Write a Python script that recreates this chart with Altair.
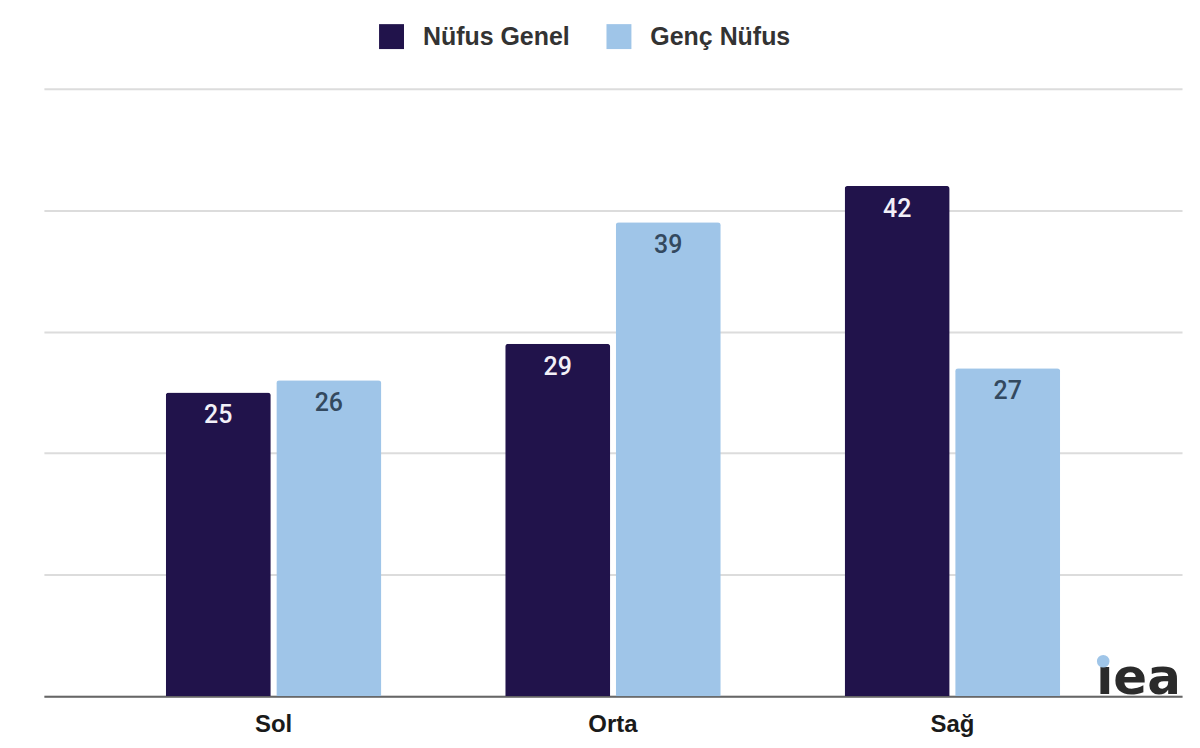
import altair as alt
import pandas as pd

categories = ["Sol", "Orta", "Sağ"]
series = ["Nüfus Genel", "Genç Nüfus"]
genel = [25, 29, 42]
genc = [26, 39, 27]
colors = ["#21134b", "#9fc5e8"]
label_colors = ["#f2f0f8", "#33495f"]

rows = []
for c, a, b in zip(categories, genel, genc):
    rows.append({"cat": c, "series": series[0], "value": a})
    rows.append({"cat": c, "series": series[1], "value": b})
df = pd.DataFrame(rows)

SANS = "Liberation Sans"
NUM = "Roboto"

base = alt.Chart(df).encode(
    x=alt.X("cat:N", sort=categories, title=None,
            scale=alt.Scale(paddingInner=0.365, paddingOuter=0.359),
            axis=alt.Axis(labelAngle=0, labelFont=SANS, labelFontSize=24,
                          labelFontWeight="bold", labelColor="#1a1a1a",
                          labelPadding=16, ticks=False, domainColor="#666666",
                          domainWidth=2, grid=False)),
    xOffset=alt.XOffset("series:N", sort=series,
                        scale=alt.Scale(paddingInner=0.05)),
    y=alt.Y("value:Q", title=None,
            scale=alt.Scale(domain=[0, 50], nice=False),
            axis=alt.Axis(values=[0, 10, 20, 30, 40, 50], labels=False,
                          ticks=False, domain=False, gridColor="#dcdcdc",
                          gridWidth=2)),
)

bars = base.mark_bar(cornerRadiusTopLeft=3, cornerRadiusTopRight=3).encode(
    color=alt.Color("series:N", sort=series,
                    scale=alt.Scale(domain=series, range=colors),
                    legend=alt.Legend(title=None, orient="none",
                                      direction="horizontal",
                                      legendX=336, legendY=-65,
                                      symbolType="square", symbolSize=625,
                                      symbolStrokeWidth=0, symbolOpacity=1,
                                      labelFont=SANS, labelFontSize=25,
                                      labelFontWeight="bold", labelColor="#333333",
                                      labelOffset=19, columnPadding=36))
)

labels = base.mark_text(baseline="top", dy=11, font=NUM, fontSize=25,
                        fontWeight=500).encode(
    text=alt.Text("value:Q"),
    color=alt.Color("series:N", sort=series,
                    scale=alt.Scale(domain=series, range=label_colors),
                    legend=None),
)

logo_df = pd.DataFrame({"t": ["ıea"]})
logo_text = alt.Chart(logo_df).mark_text(
    font="DejaVu Sans", fontSize=50, fontWeight="bold", color="#2b2b2b",
    align="left", baseline="alphabetic").encode(
    text="t:N", x=alt.value(1055), y=alt.value(607))
logo_dot = alt.Chart(logo_df).mark_point(
    filled=True, shape="circle", size=160, color="#9fc5e8", opacity=1).encode(
    x=alt.value(1062), y=alt.value(574))

chart = alt.layer(bars, labels, logo_text, logo_dot).resolve_scale(
    color="independent"
).properties(
    width=1141, height=609,
    background="white",
    autosize=alt.AutoSizeParams(type="none"),
    padding={"left": 36, "top": 80, "right": 10, "bottom": 40},
).configure_view(strokeWidth=0, stroke="transparent")

chart.save("out.html", embed_options={"renderer": "svg", "actions": False})
